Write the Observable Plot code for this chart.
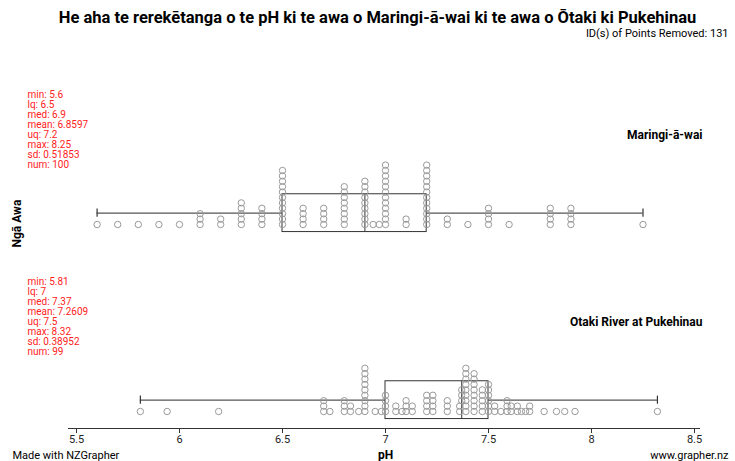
<!DOCTYPE html>
<html><head><meta charset="utf-8">
<script src="https://cdn.jsdelivr.net/npm/d3@7"></script>
<script src="https://cdn.jsdelivr.net/npm/@observablehq/plot@0.6"></script>
<style>body{margin:0;background:#fff} svg{font-family:Roboto, sans-serif}</style>
</head><body><div id="chart"></div>
<script>
const title = "He aha te rerekētanga o te pH ki te awa o Maringi-ā-wai ki te awa o Ōtaki ki Pukehinau";
const subtitle = "ID(s) of Points Removed: 131";
const yLabel = "Ngā Awa";
const xLabel = "pH";
const footerLeft = "Made with NZGrapher";
const footerRight = "www.grapher.nz";
const groups = ["Maringi-ā-wai", "Otaki River at Pukehinau"];
const xTicks = [5.5, 6, 6.5, 7, 7.5, 8, 8.5];

const maringiValues = [5.6,5.7,5.8,5.9,6.0,6.1,6.2,6.3,6.4,6.5,6.6,6.7,6.8,6.9,6.94,6.97,7.0,7.1,7.2,7.3,7.4,7.5,7.6,7.8,7.9,8.25];
const maringiCounts = [1,1,1,1,1,3,2,5,4,11,4,4,8,9,1,1,12,2,12,2,1,4,1,4,4,1];
const otakiValues = [5.81,5.94,6.19,6.70,6.73,6.80,6.83,6.87,6.90,6.95,6.98,7.00,7.05,7.08,7.10,7.13,7.20,7.23,7.30,7.36,7.37,7.39,7.43,7.47,7.50,7.53,7.56,7.59,7.61,7.64,7.66,7.68,7.70,7.77,7.83,7.87,7.92,8.32];
const otakiCounts = [1,1,1,3,1,3,2,1,9,1,1,4,2,1,3,2,4,4,3,2,3,9,8,5,6,2,1,3,2,2,1,1,2,1,1,1,1,1];

const statNames = ["min","lq","med","mean","uq","max","sd","num"];
const maringiStats = [5.6, 6.5, 6.9, 6.8597, 7.2, 8.25, 0.51853, 100];
const otakiStats = [5.81, 7, 7.37, 7.2609, 7.5, 8.32, 0.38952, 99];

// layout (stack units)
const step = 5.4;            // px per stacked dot
const gap = 187 / step;      // distance between group baselines in stack units
const offsets = [gap, 0];

function stack(values, counts, off, group) {
  const vals = [];
  values.forEach((v, i) => { for (let k = 0; k < counts[i]; k++) vals.push(v); });
  vals.sort((a, b) => a - b);
  const levels = [];
  return vals.map(v => {
    let k = 0;
    while (levels[k] && levels[k].some(u => Math.abs(u - v) < 0.015)) k++;
    (levels[k] = levels[k] || []).push(v);
    return {group, value: v, yy: off + k};
  });
}
const points = [
  ...stack(maringiValues, maringiCounts, offsets[0], groups[0]),
  ...stack(otakiValues, otakiCounts, offsets[1], groups[1])
];
const boxes = [maringiStats, otakiStats].map((s, i) => ({
  group: groups[i], off: offsets[i], min: s[0], lq: s[1], med: s[2], uq: s[4], max: s[5],
  label: statNames.map((n, j) => `${n}: ${s[j]}`).join("\n")
}));

const axisLevel = -17 / step;

const chart = Plot.plot({
  width: 735, height: 461,
  marginLeft: 68, marginRight: 35, marginTop: 0, marginBottom: 33,
  x: {domain: [5.5, 8.5], range: [76, 694], axis: null},
  y: {domain: [0, gap], range: [411, 224], axis: null},
  marks: [
    Plot.ruleY([axisLevel], {stroke: "#333", strokeWidth: 1}),
    Plot.axisX({ticks: xTicks, tickSize: 5, tickPadding: 2, tickFormat: d => String(d), fontSize: 11, stroke: "#333", fill: "#222"}),
    Plot.rect(boxes, {x1: "lq", x2: "uq", y1: d => d.off - 1.4, y2: d => d.off + 5.6, stroke: "#333", fill: "none", strokeWidth: 1}),
    Plot.ruleX(boxes, {x: "med", y1: d => d.off - 1.4, y2: d => d.off + 5.6, stroke: "#333"}),
    Plot.ruleY(boxes, {y: d => d.off + 2.1, x1: "min", x2: "lq", stroke: "#555", strokeWidth: 1.2}),
    Plot.ruleY(boxes, {y: d => d.off + 2.1, x1: "uq", x2: "max", stroke: "#555", strokeWidth: 1.2}),
    Plot.ruleX(boxes, {x: "min", y1: d => d.off + 1.35, y2: d => d.off + 2.85, stroke: "#333", strokeWidth: 1.2}),
    Plot.ruleX(boxes, {x: "max", y1: d => d.off + 1.35, y2: d => d.off + 2.85, stroke: "#333", strokeWidth: 1.2}),
    Plot.dot(points, {x: "value", y: "yy", r: 3.2, stroke: "#999", fill: "none", strokeWidth: 1}),
    Plot.text(boxes, {text: "group", y: d => d.off + 16.5, frameAnchor: "right", dx: 2, textAnchor: "end", fontSize: 12, fontWeight: "bold", fill: "#000"}),
    Plot.text(boxes, {text: "label", y: d => d.off + 24.8, frameAnchor: "left", dx: -41, textAnchor: "start", lineAnchor: "top", lineHeight: 1, fontSize: 10, fill: "#f22"}),
    Plot.text([title], {text: d => d, frameAnchor: "top", dx: -7, dy: 17, lineAnchor: "middle", fontSize: 16.5, fontWeight: "bold", fill: "#000"}),
    Plot.text([subtitle], {text: d => d, frameAnchor: "top-right", dx: 28, dy: 33, textAnchor: "end", lineAnchor: "middle", fontSize: 11, fill: "#000"}),
    Plot.text([yLabel], {text: d => d, y: [gap - 23 / step], frameAnchor: "left", dx: -51, rotate: -90, lineAnchor: "middle", fontSize: 12, fontWeight: "bold", fill: "#000"}),
    Plot.text([footerLeft], {text: d => d, frameAnchor: "bottom-left", dx: -56, dy: 27, textAnchor: "start", lineAnchor: "middle", fontSize: 11, fill: "#000"}),
    Plot.text([xLabel], {text: d => d, frameAnchor: "bottom", dx: 1, dy: 27, lineAnchor: "middle", fontSize: 12, fontWeight: "bold", fill: "#000"}),
    Plot.text([footerRight], {text: d => d, frameAnchor: "bottom-right", dx: 28, dy: 27, textAnchor: "end", lineAnchor: "middle", fontSize: 11, fill: "#000"})
  ]
});
document.getElementById("chart").appendChild(chart);
</script>
</body></html>
